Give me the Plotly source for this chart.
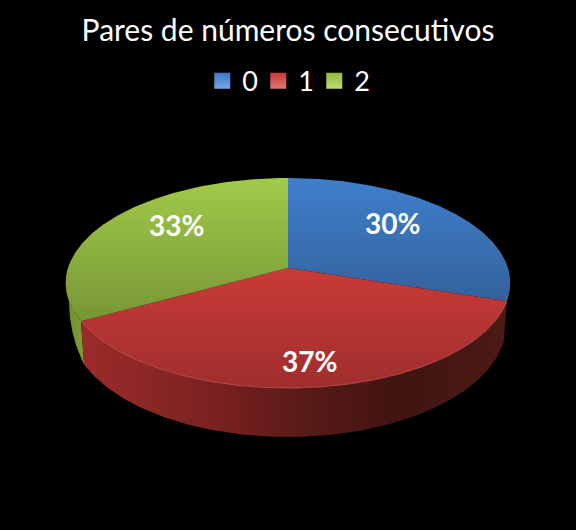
import numpy as np
import plotly.graph_objects as go

title = "Pares de números consecutivos"
categories = ["0", "1", "2"]
values = [30, 37, 33]

swatch = ["#3c78c2", "#c43a38", "#93b93f"]
swatch_light = ["#74a6e0", "#e27573", "#bddb72"]
top_scales = [
    [[0, "#33629c"], [1, "#3f7fcb"]],
    [[0, "#9f2e2c"], [1, "#c93b39"]],
    [[0, "#769635"], [1, "#a2ca4a"]],
]
side_scales = [
    [[0, "#33629c"], [1, "#28507e"]],
    [[0, "#9c2b2a"], [0.3, "#7b2220"], [0.5, "#5c1b19"], [0.75, "#401411"], [1, "#4c1a15"]],
    [[0, "#6d8c2e"], [1, "#7e9f38"]],
]
label_xy = [(392, 223), (309, 361), (176, 225)]

CX, CY, R, H, K = 288, 268, 220, 102.86, 0.1429
SHRINK, D0, D1 = 0.985, 38, 11
TAPER0, TAPER1 = 241.0, 272.0
VIS0, VIS1 = np.pi * 108 / 180, np.pi * TAPER1 / 180


def project(theta, r=1.0):
    u, v = r * np.sin(theta), r * np.cos(theta)
    w = 1 + K * v
    return CX + R * u / w, CY - H * v / w


def project_bottom(theta):
    x, y = project(theta)
    deg = np.degrees(theta)
    taper = np.clip((TAPER1 - deg) / (TAPER1 - TAPER0), 0, 1) ** 0.7
    return CX + (x - CX) * SHRINK, y + (D0 - D1 * np.cos(theta)) * taper


fig = go.Figure()
total = sum(values)
edges = np.concatenate([[0], np.cumsum(values)]) / total * 2 * np.pi

# side walls
order = [2, 1, 0]
for i in order:
    a0, a1 = max(edges[i], VIS0), min(edges[i + 1], VIS1)
    if a1 <= a0:
        continue
    t = np.linspace(a0, a1, 160)
    xt, yt = project(t)
    xb, yb = project_bottom(t)
    fig.add_trace(go.Scatter(
        x=np.concatenate([xt, xb[::-1], xt[:1]]),
        y=np.concatenate([yt, yb[::-1], yt[:1]]),
        mode="lines", line=dict(width=0), fill="toself",
        fillgradient=dict(type="horizontal", colorscale=side_scales[i]),
        showlegend=False, hoverinfo="skip",
    ))

# top faces
for i, cat in enumerate(categories):
    t = np.linspace(edges[i], edges[i + 1], 240)
    xt, yt = project(t)
    fig.add_trace(go.Scatter(
        x=np.concatenate([[CX], xt, [CX]]),
        y=np.concatenate([[CY], yt, [CY]]),
        mode="lines", line=dict(width=0), fill="toself",
        fillgradient=dict(type="vertical", colorscale=top_scales[i]),
        showlegend=False, name=cat,
    ))

# soft highlight on front rim of the red slice
t = np.linspace(edges[1], edges[2], 240)
xr, yr = project(t)
fig.add_trace(go.Scatter(x=xr, y=yr, mode="lines",
                         line=dict(color="rgba(225,110,105,0.55)", width=1),
                         showlegend=False, hoverinfo="skip"))

# legend entries
for i, cat in enumerate(categories):
    fig.add_trace(go.Scatter(
        x=[None], y=[None], mode="markers", name=cat,
        marker=dict(symbol="square", size=18, color=swatch[i],
                    gradient=dict(type="vertical", color=swatch_light[i])),
    ))

annotations = [
    dict(x=x, y=y, text=f"<b>{round(v / total * 100)}%</b>", showarrow=False,
         font=dict(family="Lato", size=28, color="white"), xref="x", yref="y")
    for (x, y), v in zip(label_xy, values)
]

fig.update_layout(
    width=576, height=530, autosize=False,
    margin=dict(l=0, r=0, t=0, b=0),
    paper_bgcolor="black", plot_bgcolor="black",
    title=dict(text=title, x=0.5, xanchor="center", y=0.943, yanchor="middle",
               font=dict(family="Lato", size=30, color="white")),
    legend=dict(orientation="h", x=0.497, xanchor="center", y=0.847, yanchor="middle",
                font=dict(family="Lato", size=27, color="white"),
                entrywidth=11, entrywidthmode="pixels",
                bgcolor="rgba(0,0,0,0)", itemclick=False, itemdoubleclick=False),
    xaxis=dict(range=[0, 576], visible=False, fixedrange=True),
    yaxis=dict(range=[530, 0], visible=False, fixedrange=True),
    annotations=annotations,
)

post = """
document.documentElement.style.margin = '0';
document.body.style.margin = '0';
document.body.style.background = 'black';
document.body.style.overflow = 'hidden';
var s = document.createElement('style');
s.textContent = 'svg text { font-variant-ligatures: none; }';
document.head.appendChild(s);
"""
fig.write_html("out.html", config=dict(displayModeBar=False), post_script=post)
